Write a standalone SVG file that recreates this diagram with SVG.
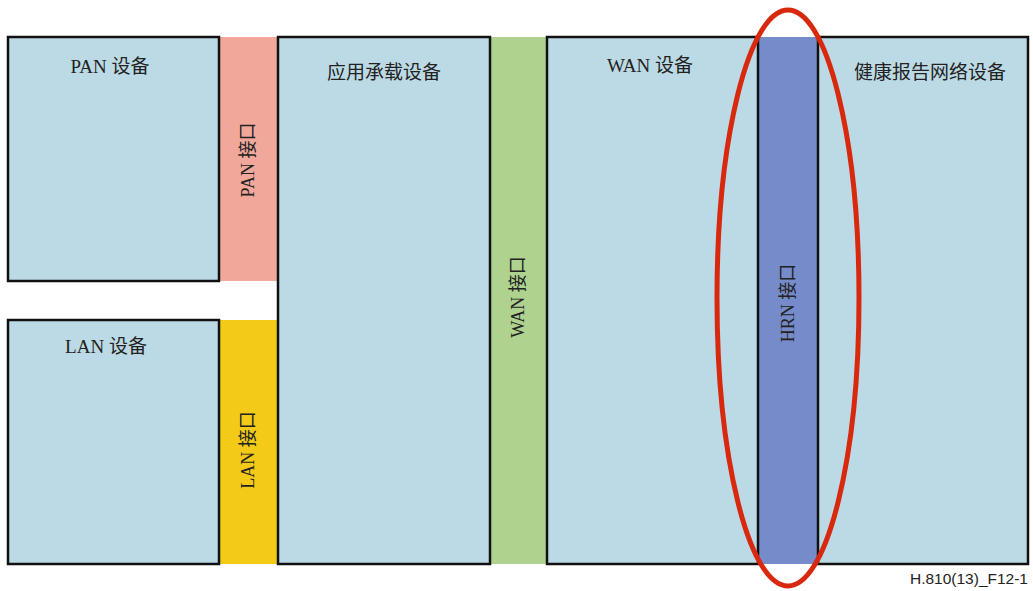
<svg xmlns="http://www.w3.org/2000/svg" width="1033" height="591" viewBox="0 0 1033 591">
<style>
.box{fill:#bcdae5;stroke:#111;stroke-width:2.5}
.lbl{font-family:"Liberation Serif","Noto Sans CJK SC",serif;font-size:19px;fill:#222;text-anchor:middle}
.vl{font-family:"Liberation Serif","Noto Sans CJK SC",serif;font-size:18px;fill:#222;text-anchor:middle}
</style>
<rect width="1033" height="591" fill="#fff"/>
<g id="pan-if"><rect x="219" y="37" width="59" height="244" fill="#f1a89b"/><text class="vl" transform="translate(254,160) rotate(-90)">PAN 接口</text></g>
<g id="lan-if"><rect x="219" y="320" width="59" height="244" fill="#f3ca17"/><text class="vl" transform="translate(254,450) rotate(-90)">LAN 接口</text></g>
<g id="wan-if"><rect x="490" y="37" width="57" height="527" fill="#afd28f"/><text class="vl" transform="translate(524,297) rotate(-90)">WAN 接口</text></g>
<g id="hrn-if"><rect x="758" y="37" width="60" height="527" fill="#768bc9"/><text class="vl" transform="translate(794,303) rotate(-90)">HRN 接口</text></g>
<g id="pan-dev"><rect class="box" x="8" y="37" width="211" height="244"/><text class="lbl" x="110" y="73">PAN 设备</text></g>
<g id="lan-dev"><rect class="box" x="8" y="320" width="211" height="244"/><text class="lbl" x="106" y="353">LAN 设备</text></g>
<g id="app-dev"><rect class="box" x="278" y="37" width="212" height="527"/><text class="lbl" x="384" y="79">应用承载设备</text></g>
<g id="wan-dev"><rect class="box" x="547" y="37" width="211" height="527"/><text class="lbl" x="650" y="72">WAN 设备</text></g>
<g id="hrn-dev"><rect class="box" x="818" y="37" width="210" height="527"/><text class="lbl" x="930" y="79">健康报告网络设备</text></g>
<g id="connectors"></g>
<g id="highlight"><ellipse cx="788" cy="298" rx="71" ry="288" fill="none" stroke="#d8290f" stroke-width="5"/></g>
<text x="1028" y="584" font-family="Liberation Sans,Arial,sans-serif" font-size="15.5" fill="#222" text-anchor="end">H.810(13)_F12-1</text>
</svg>
